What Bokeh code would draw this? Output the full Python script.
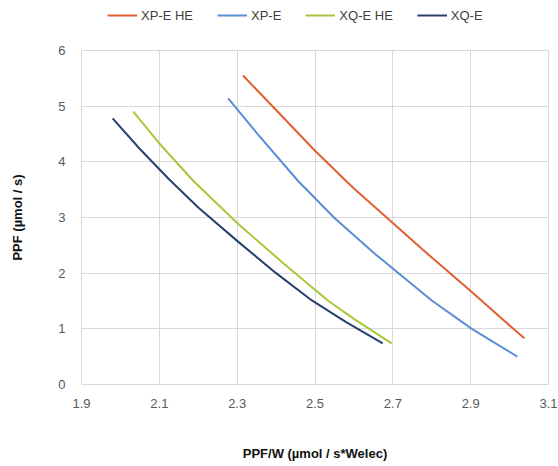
from bokeh.plotting import figure
from bokeh.layouts import column
from bokeh.models import Legend, LegendItem, FixedTicker
from bokeh.embed import file_html
from bokeh.resources import INLINE

# Data
xpe_he_x = [2.315, 2.4, 2.5, 2.6, 2.7, 2.8, 2.9, 3.0, 3.038]
xpe_he_y = [5.55, 4.93, 4.20, 3.52, 2.90, 2.28, 1.68, 1.06, 0.83]

xpe_x = [2.277, 2.35, 2.456, 2.55, 2.65, 2.8, 2.903, 3.02]
xpe_y = [5.14, 4.52, 3.66, 2.99, 2.37, 1.51, 1.00, 0.50]

xqe_he_x = [2.033, 2.1, 2.187, 2.3, 2.42, 2.533, 2.6, 2.697]
xqe_he_y = [4.90, 4.33, 3.66, 2.90, 2.17, 1.51, 1.18, 0.74]

xqe_x = [1.98, 2.05, 2.123, 2.2, 2.3, 2.4, 2.492, 2.58, 2.674]
xqe_y = [4.78, 4.23, 3.70, 3.18, 2.58, 2.00, 1.51, 1.12, 0.74]

series_names = ["XP-E HE", "XP-E", "XQ-E HE", "XQ-E"]
colors = ["#E0602E", "#5B8CD6", "#A7C83A", "#26406F"]

x_ticks = [1.9, 2.1, 2.3, 2.5, 2.7, 2.9, 3.1]
y_ticks = [0, 1, 2, 3, 4, 5, 6]

all_series = [(xpe_he_x, xpe_he_y), (xpe_x, xpe_y), (xqe_he_x, xqe_he_y), (xqe_x, xqe_y)]

# Legend strip above the chart (its frame is aligned with the chart frame)
leg = figure(width=558, height=30, x_range=(0, 1), y_range=(0, 1),
             output_backend="svg", toolbar_location=None,
             min_border_left=0, min_border_right=0, min_border_top=0,
             min_border_bottom=0)
leg.axis.visible = False
leg.grid.visible = False
leg.outline_line_color = None
leg.border_fill_color = "white"
leg_renderers = [leg.line(xs, ys, line_color=c, line_width=2)
                 for (xs, ys), c in zip(all_series, colors)]
legend = Legend(items=[LegendItem(label=n, renderers=[r]) for n, r in zip(series_names, leg_renderers)],
                orientation="horizontal", location=(26, 5),
                padding=0, margin=0, spacing=24, label_standoff=4,
                glyph_width=30, glyph_height=20,
                label_text_font="Liberation Sans", label_text_font_size="13px",
                label_text_color="#404040",
                background_fill_alpha=0, border_line_color=None)
leg.add_layout(legend, "center")

# Main chart
p = figure(width=558, height=436, x_range=(1.9, 3.1), y_range=(0, 6),
           output_backend="svg", toolbar_location=None,
           min_border_left=81, min_border_right=10, min_border_top=20,
           min_border_bottom=82)

for (xs, ys), c in zip(all_series, colors):
    p.line(xs, ys, line_color=c, line_width=2, line_join="round")

p.xaxis.ticker = FixedTicker(ticks=x_ticks)
p.yaxis.ticker = FixedTicker(ticks=y_ticks)
p.xaxis.major_label_overrides = {t: f"{t:.1f}" for t in x_ticks}

for ax in (p.xaxis[0], p.yaxis[0]):
    ax.axis_line_color = None
    ax.major_tick_line_color = None
    ax.minor_tick_line_color = None
    ax.major_label_text_font = "Liberation Sans"
    ax.major_label_text_font_size = "13px"
    ax.major_label_text_color = "#595959"
    ax.axis_label_text_font = "Liberation Sans"
    ax.axis_label_text_font_style = "bold"
    ax.axis_label_text_font_size = "13px"
    ax.axis_label_text_color = "#111111"

p.xaxis.axis_label = "PPF/W (µmol / s*Welec)"
p.yaxis.axis_label = "PPF (µmol / s)"
p.xaxis.major_label_standoff = 8
p.yaxis.major_label_standoff = 10
p.xaxis.axis_label_standoff = 35
p.yaxis.axis_label_standoff = 30

p.grid.grid_line_color = "#D9D9D9"
p.outline_line_color = "#D9D9D9"
p.background_fill_color = "white"
p.border_fill_color = "white"

layout = column(leg, p, spacing=0)
open("out.html", "w").write(file_html(layout, INLINE))
